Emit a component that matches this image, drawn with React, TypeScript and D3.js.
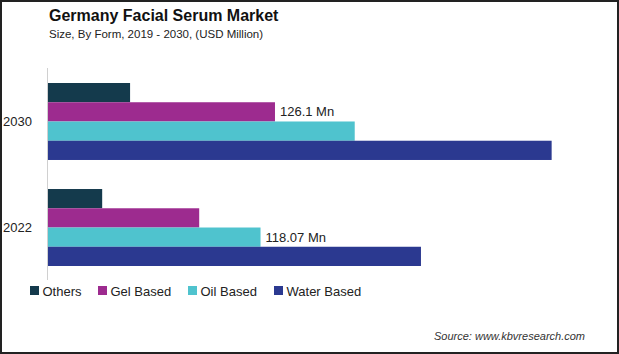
import * as d3 from 'd3';
import { type FC, useEffect, useRef } from 'react';

const years = ['2030', '2022'];
const seriesNames = ['Others', 'Gel Based', 'Oil Based', 'Water Based'];
const seriesColors = ['#143a4c', '#9d2b8f', '#4fc3ce', '#2b3990'];
const others = [45.6, 30.1];
const gelBased = [126.1, 84.0];
const oilBased = [170.4, 118.07];
const waterBased = [279.8, 207.2];
// which series carries the value label, per year
const labelledSeries = ['Gel Based', 'Oil Based'];

const WIDTH = 619;
const HEIGHT = 354;
const FONT = '"Liberation Sans", Arial, sans-serif';

interface Row {
  year: string;
  series: string;
  value: number;
  color: string;
}

const App: FC = () => {
  const svgRef = useRef<SVGSVGElement>(null);

  useEffect(() => {
    if (!svgRef.current) {
      return;
    }
    const svg = d3.select(svgRef.current);
    svg.selectAll('*').remove();

    const allSeries = [others, gelBased, oilBased, waterBased];
    const rows: Row[] = [];
    years.forEach((year, yi) => {
      seriesNames.forEach((s, si) => {
        rows.push({ year, series: s, value: allSeries[si][yi], color: seriesColors[si] });
      });
    });

    // frame
    svg
      .append('rect')
      .attr('x', 1)
      .attr('y', 1)
      .attr('width', WIDTH - 2)
      .attr('height', HEIGHT - 2)
      .attr('fill', '#fff')
      .attr('stroke', '#222')
      .attr('stroke-width', 2);

    // titles
    svg
      .append('text')
      .attr('x', 49)
      .attr('y', 21)
      .attr('fill', '#111')
      .attr('font-family', FONT)
      .attr('font-size', '16px')
      .attr('font-weight', '700')
      .text('Germany Facial Serum Market');

    svg
      .append('text')
      .attr('x', 49)
      .attr('y', 38)
      .attr('fill', '#222')
      .attr('font-family', FONT)
      .attr('font-size', '11.5px')
      .text('Size, By Form, 2019 - 2030, (USD Million)');

    const x = d3.scaleLinear().domain([0, 300]).range([48, 588]);
    const y0 = d3
      .scaleBand<string>()
      .domain(years)
      .range([68, 281])
      .paddingInner(0.274)
      .paddingOuter(0.1415);
    const y1 = d3
      .scaleBand<string>()
      .domain(seriesNames)
      .range([0, y0.bandwidth()]);

    // bars
    svg
      .append('g')
      .selectAll('rect')
      .data(rows)
      .join('rect')
      .attr('x', x(0))
      .attr('y', (d) => (y0(d.year) ?? 0) + (y1(d.series) ?? 0))
      .attr('width', (d) => x(d.value) - x(0))
      .attr('height', y1.bandwidth())
      .attr('fill', (d) => d.color);

    // value labels
    const labelRows = rows.filter((d) => d.series === labelledSeries[years.indexOf(d.year)]);
    svg
      .append('g')
      .selectAll('text')
      .data(labelRows)
      .join('text')
      .attr('x', (d) => x(d.value) + 5)
      .attr('y', (d) => (y0(d.year) ?? 0) + (y1(d.series) ?? 0) + y1.bandwidth() / 2)
      .attr('dy', '0.35em')
      .attr('fill', '#222')
      .attr('font-family', FONT)
      .attr('font-size', '13px')
      .text((d) => `${d.value} Mn`);

    // axis line
    svg
      .append('line')
      .attr('x1', 47.5)
      .attr('x2', 47.5)
      .attr('y1', 68)
      .attr('y2', 280)
      .attr('stroke', '#d0d0d0')
      .attr('stroke-width', 1);

    // year labels
    svg
      .append('g')
      .selectAll('text')
      .data(years)
      .join('text')
      .attr('x', 3)
      .attr('y', (d) => (y0(d) ?? 0) + y0.bandwidth() / 2)
      .attr('dy', '0.35em')
      .attr('fill', '#222')
      .attr('font-family', FONT)
      .attr('font-size', '13px')
      .text((d) => d);

    // legend
    const legendX = [30, 98, 188, 274];
    const legend = svg
      .append('g')
      .selectAll('g')
      .data(seriesNames)
      .join('g')
      .attr('transform', (_, i) => `translate(${legendX[i]},286)`);
    legend
      .append('rect')
      .attr('width', 9)
      .attr('height', 9)
      .attr('fill', (_, i) => seriesColors[i]);
    legend
      .append('text')
      .attr('x', 12.5)
      .attr('y', 9.5)
      .attr('fill', '#222')
      .attr('font-family', FONT)
      .attr('font-size', '13px')
      .text((d) => d);

    svg
      .append('text')
      .attr('x', 585)
      .attr('y', 340)
      .attr('text-anchor', 'end')
      .attr('fill', '#333')
      .attr('font-family', FONT)
      .attr('font-size', '11px')
      .attr('font-style', 'italic')
      .text('Source: www.kbvresearch.com');
  }, []);

  return (
    <svg
      ref={svgRef}
      width={WIDTH}
      height={HEIGHT}
      style={{ position: 'absolute', top: 0, left: 0, display: 'block' }}
    />
  );
};

export default App;
